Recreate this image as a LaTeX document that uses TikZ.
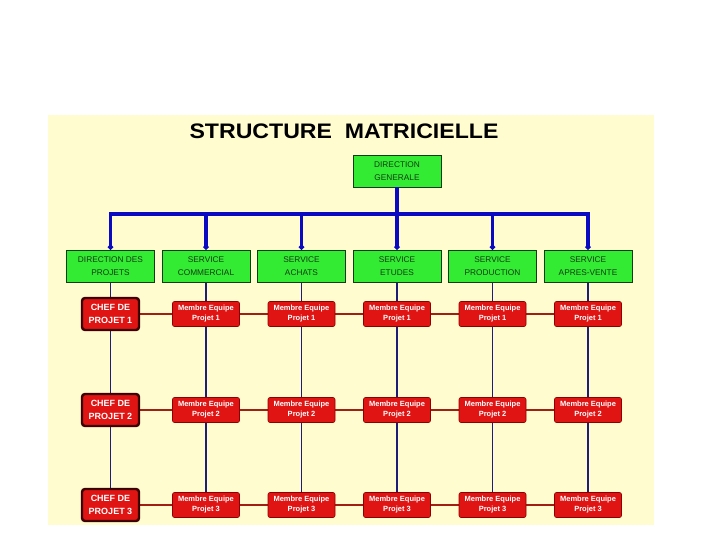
\documentclass[tikz,border=0pt]{standalone}
\usepackage{fontspec}
\setmainfont{Liberation Sans}
\usetikzlibrary{arrows.meta,positioning,backgrounds,calc}
\definecolor{paperyellow}{RGB}{255,252,208}
\definecolor{servgreen}{RGB}{50,235,50}
\definecolor{greenedge}{RGB}{20,60,20}
\definecolor{greentext}{RGB}{20,60,20}
\definecolor{equipred}{RGB}{225,20,20}
\definecolor{rededge}{RGB}{140,0,0}
\definecolor{chefedge}{RGB}{60,0,0}
\definecolor{busblue}{RGB}{10,10,195}
\definecolor{colnavy}{RGB}{30,30,120}
\definecolor{rowred}{RGB}{160,30,20}
\tikzset{
  titletext/.style={font=\fontsize{21}{24}\selectfont\bfseries, text=black},
  greenbox/.style={rectangle, draw=greenedge, line width=0.8pt, fill=servgreen,
    minimum width=88pt, minimum height=32pt, align=center, inner sep=1pt,
    font=\fontsize{8.3}{12.5}\selectfont, text=greentext},
  chefbox/.style={rectangle, rounded corners=3pt, draw=chefedge, line width=2.4pt,
    fill=equipred, minimum width=57pt, minimum height=32pt, align=center,
    inner sep=1pt, font=\fontsize{9}{13}\selectfont\bfseries, text=white},
  membrebox/.style={rectangle, rounded corners=2pt, draw=rededge, line width=0.6pt,
    fill=equipred, minimum width=67pt, minimum height=25pt, align=center,
    inner sep=1pt, font=\fontsize{7.5}{10}\selectfont\bfseries, text=white},
  busline/.style={line width=3.5pt, draw=busblue},
  busdrop/.style={busline, -{Circle[length=5pt]}},
  colline/.style={line width=1.9pt, draw=colnavy},
  rowline/.style={line width=1.1pt, draw=rowred}
}
\begin{document}
\begin{tikzpicture}[x=1pt, y=-1pt]
  \useasboundingbox (0,0) rectangle (720,540);

  % --- title ---
  \node[titletext] (titre) at (344,131) {\scalebox{1.1}[1]{STRUCTURE\ \ MATRICIELLE}};

  % --- services ---
  \node[greenbox] (dirproj) at (110.5,266) {DIRECTION DES\\PROJETS};
  \node[greenbox] (comm) at (206,266) {SERVICE\\COMMERCIAL};
  \node[greenbox] (achats) at (301.5,266) {SERVICE\\ACHATS};
  \node[greenbox] (etudes) at (397,266) {SERVICE\\ETUDES};
  \node[greenbox] (prod) at (492.5,266) {SERVICE\\PRODUCTION};
  \node[greenbox] (sav) at (588,266) {SERVICE\\APRES-VENTE};
  \node[greenbox] (dg) at (etudes |- 0,171) {DIRECTION\\GENERALE};

  % --- chefs de projet ---
  \node[chefbox] (chefa) at (dirproj |- 0,314) {CHEF DE\\PROJET 1};
  \node[chefbox] (chefb) at (dirproj |- 0,410) {CHEF DE\\PROJET 2};
  \node[chefbox] (chefc) at (dirproj |- 0,505) {CHEF DE\\PROJET 3};

  % --- membres, projet 1 ---
  \node[membrebox] (comm1) at (comm |- chefa) {Membre Equipe\\Projet 1};
  \node[membrebox] (achats1) at (achats |- chefa) {Membre Equipe\\Projet 1};
  \node[membrebox] (etudes1) at (etudes |- chefa) {Membre Equipe\\Projet 1};
  \node[membrebox] (prod1) at (prod |- chefa) {Membre Equipe\\Projet 1};
  \node[membrebox] (sav1) at (sav |- chefa) {Membre Equipe\\Projet 1};

  % --- membres, projet 2 ---
  \node[membrebox] (comm2) at (comm |- chefb) {Membre Equipe\\Projet 2};
  \node[membrebox] (achats2) at (achats |- chefb) {Membre Equipe\\Projet 2};
  \node[membrebox] (etudes2) at (etudes |- chefb) {Membre Equipe\\Projet 2};
  \node[membrebox] (prod2) at (prod |- chefb) {Membre Equipe\\Projet 2};
  \node[membrebox] (sav2) at (sav |- chefb) {Membre Equipe\\Projet 2};

  % --- membres, projet 3 ---
  \node[membrebox] (comm3) at (comm |- chefc) {Membre Equipe\\Projet 3};
  \node[membrebox] (achats3) at (achats |- chefc) {Membre Equipe\\Projet 3};
  \node[membrebox] (etudes3) at (etudes |- chefc) {Membre Equipe\\Projet 3};
  \node[membrebox] (prod3) at (prod |- chefc) {Membre Equipe\\Projet 3};
  \node[membrebox] (sav3) at (sav |- chefc) {Membre Equipe\\Projet 3};

  % ---------------- hierarchy ----------------
  \coordinate (busmid) at (dg.south |- 0,214);
  \draw[busline] (dg.south) -- (busmid);
  \draw[busdrop] (busmid) -| (dirproj.north);
  \draw[busdrop] (busmid) -| (comm.north);
  \draw[busdrop] (busmid) -| (achats.north);
  \draw[busdrop] (busmid) -- (etudes.north);
  \draw[busdrop] (busmid) -| (prod.north);
  \draw[busdrop] (busmid) -| (sav.north);

  % ---------------- matrix lines ----------------
  \begin{scope}[on background layer]
    \fill[paperyellow] (48,115) rectangle (654,525);
    \draw[colline] (dirproj.south) -- (chefc.north);
    \draw[colline] (comm.south) -- (comm3.north);
    \draw[colline] (achats.south) -- (achats3.north);
    \draw[colline] (etudes.south) -- (etudes3.north);
    \draw[colline] (prod.south) -- (prod3.north);
    \draw[colline] (sav.south) -- (sav3.north);
    \draw[rowline] (chefa.east) -- (sav1.west);
    \draw[rowline] (chefb.east) -- (sav2.west);
    \draw[rowline] (chefc.east) -- (sav3.west);
  \end{scope}

\end{tikzpicture}
\end{document}
